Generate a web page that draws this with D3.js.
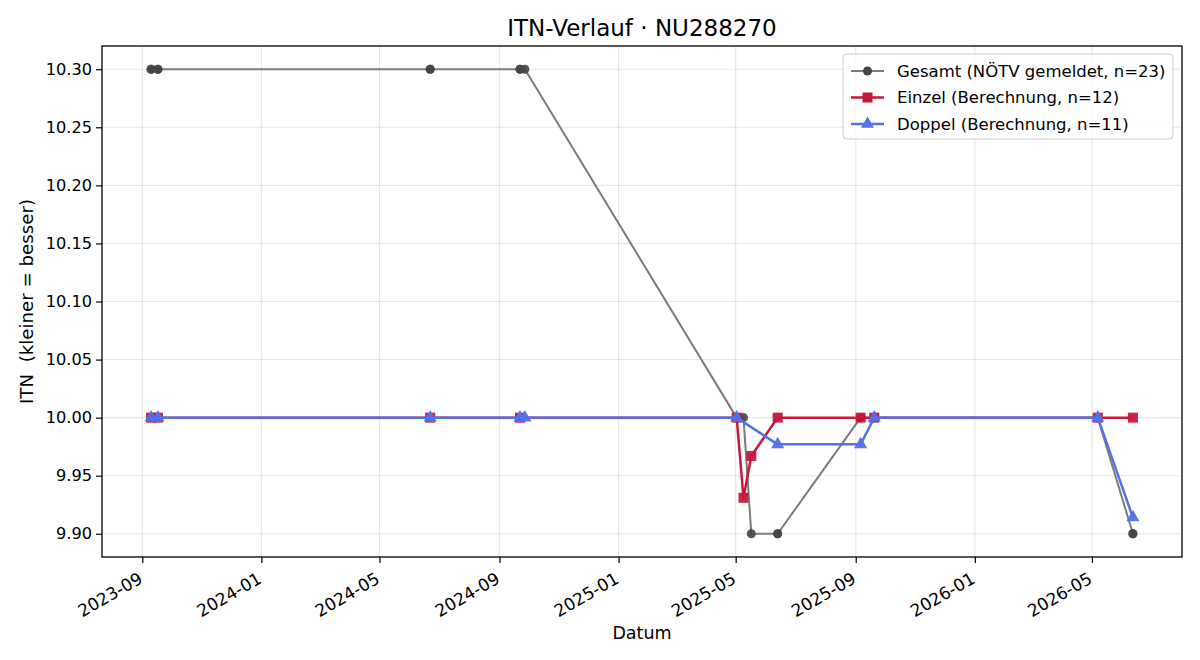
<!DOCTYPE html>
<html>
<head>
<meta charset="utf-8">
<script src="https://cdn.jsdelivr.net/npm/d3@7"></script>
<style>
  body { margin: 0; background: #fff; }
  text { font-family: "DejaVu Sans", sans-serif; fill: #000; }
</style>
</head>
<body>
<div id="chart"></div>
<script>
// Gesamt (alle gemeldeten Werte)
const gesamtDates = ['2023-09-10', '2023-09-10', '2023-09-17', '2023-09-17', '2024-06-22', '2024-06-22',
  '2024-09-22', '2024-09-22', '2024-09-27', '2025-05-02', '2025-05-02', '2025-05-09', '2025-05-17',
  '2025-06-13', '2025-06-13', '2025-09-06', '2025-09-06', '2025-09-20', '2025-09-20',
  '2026-05-07', '2026-05-07', '2026-06-12', '2026-06-12'];
const gesamtValues = [10.30, 10.30, 10.30, 10.30, 10.30, 10.30,
  10.30, 10.30, 10.30, 10.00, 10.00, 10.00, 9.90,
  9.90, 9.90, 10.00, 10.00, 10.00, 10.00,
  10.00, 10.00, 9.90, 9.90];

// Einzel
const einzelDates = ['2023-09-10', '2023-09-17', '2024-06-22', '2024-09-22', '2025-05-02', '2025-05-09',
  '2025-05-17', '2025-06-13', '2025-09-06', '2025-09-20', '2026-05-07', '2026-06-12'];
const einzelValues = [10.00, 10.00, 10.00, 10.00, 10.00, 9.931, 9.967, 10.00, 10.00, 10.00, 10.00, 10.00];

// Doppel
const doppelDates = ['2023-09-10', '2023-09-17', '2024-06-22', '2024-09-22', '2024-09-27', '2025-05-02',
  '2025-06-13', '2025-09-06', '2025-09-20', '2026-05-07', '2026-06-12'];
const doppelValues = [10.00, 10.00, 10.00, 10.00, 10.00, 10.00, 9.977, 9.977, 10.00, 10.00, 9.914];

const yTicks = [9.90, 9.95, 10.00, 10.05, 10.10, 10.15, 10.20, 10.25, 10.30];

const legendLabels = ['Gesamt (NÖTV gemeldet, n=23)', 'Einzel (Berechnung, n=12)', 'Doppel (Berechnung, n=11)'];

const width = 1200, height = 660;
const margin = { top: 46, right: 18, bottom: 103, left: 102 };
const innerW = width - margin.left - margin.right;
const innerH = height - margin.top - margin.bottom;

const parse = d3.utcParse('%Y-%m-%d');
const toPoints = (dates, values) => dates.map((d, i) => ({ date: parse(d), value: values[i] }));

const series = [
  { name: legendLabels[0], points: toPoints(gesamtDates, gesamtValues), line: '#7b7b7b', mark: '#454545', shape: 'circle', lw: 2 },
  { name: legendLabels[1], points: toPoints(einzelDates, einzelValues), line: '#c8173a', mark: '#c8173a', shape: 'square', lw: 2.5 },
  { name: legendLabels[2], points: toPoints(doppelDates, doppelValues), line: '#5470ea', mark: '#5470ea', shape: 'triangle', lw: 2.5 }
];

// x-Bereich mit 5% Rand wie matplotlib
const allDates = series.flatMap(s => s.points.map(p => p.date));
const [dMin, dMax] = d3.extent(allDates);
const pad = (dMax - dMin) * 0.05;

const x = d3.scaleUtc()
  .domain([new Date(+dMin - pad), new Date(+dMax + pad)])
  .range([0, innerW]);

const y = d3.scaleLinear()
  .domain([9.88, 10.32])
  .range([innerH, 0]);

const svg = d3.select('#chart').append('svg')
  .attr('width', width)
  .attr('height', height);

const g = svg.append('g')
  .attr('transform', `translate(${margin.left},${margin.top})`);

const xTicks = x.ticks(d3.utcMonth.every(4));

// Gitter
g.append('g').selectAll('line.gx')
  .data(xTicks)
  .join('line')
  .attr('x1', d => x(d)).attr('x2', d => x(d))
  .attr('y1', 0).attr('y2', innerH)
  .attr('stroke', '#b0b0b0').attr('stroke-opacity', 0.3).attr('stroke-width', 1.1);

g.append('g').selectAll('line.gy')
  .data(yTicks)
  .join('line')
  .attr('y1', d => y(d)).attr('y2', d => y(d))
  .attr('x1', 0).attr('x2', innerW)
  .attr('stroke', '#b0b0b0').attr('stroke-opacity', 0.3).attr('stroke-width', 1.1);

// Achsen
const xAxis = g.append('g')
  .attr('transform', `translate(0,${innerH})`)
  .call(d3.axisBottom(x).tickValues(xTicks).tickFormat(d3.utcFormat('%Y-%m')).tickSize(6).tickPadding(4));

// gedrehte Beschriftung, rechtes Ende am Tick
xAxis.selectAll('text')
  .style('font-size', '17px')
  .attr('text-anchor', 'end')
  .attr('x', 0).attr('y', 0).attr('dy', 0)
  .attr('transform', 'translate(1,25) rotate(-30)');

const yAxis = g.append('g')
  .call(d3.axisLeft(y).tickValues(yTicks).tickFormat(d3.format('.2f')).tickSize(6).tickPadding(4));

yAxis.selectAll('text').style('font-size', '16.2px');
[xAxis, yAxis].forEach(a => {
  a.select('.domain').remove();
  a.selectAll('.tick line').attr('stroke', '#000').attr('stroke-width', 1.2);
});

// Rahmen
g.append('rect')
  .attr('width', innerW).attr('height', innerH)
  .attr('fill', 'none').attr('stroke', '#000').attr('stroke-width', 1.3);

const line = d3.line().x(d => x(d.date)).y(d => y(d.value));

const symbolFor = {
  circle: d3.symbol(d3.symbolCircle, 64),
  square: d3.symbol(d3.symbolSquare, 100),
  triangle: d3.symbol(d3.symbolTriangle, 75)
};

const sg = g.append('g').selectAll('g.series')
  .data(series)
  .join('g');

sg.append('path')
  .attr('d', d => line(d.points))
  .attr('fill', 'none')
  .attr('stroke', d => d.line)
  .attr('stroke-width', d => d.lw)
  .attr('stroke-linejoin', 'round');

sg.each(function (s) {
  d3.select(this).selectAll('path.m')
    .data(s.points)
    .join('path')
    .attr('class', 'm')
    .attr('d', symbolFor[s.shape])
    .attr('transform', d => `translate(${x(d.date)},${y(d.value)})`)
    .attr('fill', s.mark)
    .attr('fill-opacity', s.shape === 'circle' ? 0.9 : 0.95);
});

// Legende
const lg = g.append('g').attr('transform', `translate(${innerW - 339},8)`);
lg.append('rect')
  .attr('width', 330).attr('height', 85)
  .attr('rx', 4)
  .attr('fill', '#fff').attr('fill-opacity', 0.8)
  .attr('stroke', '#cccccc');

const li = lg.selectAll('g.item')
  .data(series)
  .join('g')
  .attr('transform', (d, i) => `translate(8,${17 + i * 26.5})`);

li.append('line')
  .attr('x1', 0).attr('x2', 33)
  .attr('stroke', d => d.line)
  .attr('stroke-width', d => d.lw);

li.append('path')
  .attr('d', d => symbolFor[d.shape]())
  .attr('transform', 'translate(16.5,0)')
  .attr('fill', d => d.mark);

li.append('text')
  .attr('x', 46)
  .attr('dy', '0.35em')
  .style('font-size', '16.5px')
  .text(d => d.name);

// Titel und Achsenbeschriftungen
svg.append('text')
  .attr('x', margin.left + innerW / 2)
  .attr('y', 36)
  .attr('text-anchor', 'middle')
  .style('font-size', '23px')
  .text('ITN-Verlauf · NU288270');

svg.append('text')
  .attr('x', margin.left + innerW / 2)
  .attr('y', 639)
  .attr('text-anchor', 'middle')
  .style('font-size', '17.5px')
  .text('Datum');

svg.append('text')
  .attr('transform', `translate(33,${margin.top + innerH / 2}) rotate(-90)`)
  .attr('text-anchor', 'middle')
  .style('font-size', '18.2px')
  .style('white-space', 'pre')
  .text('ITN  (kleiner = besser)');
</script>
</body>
</html>
